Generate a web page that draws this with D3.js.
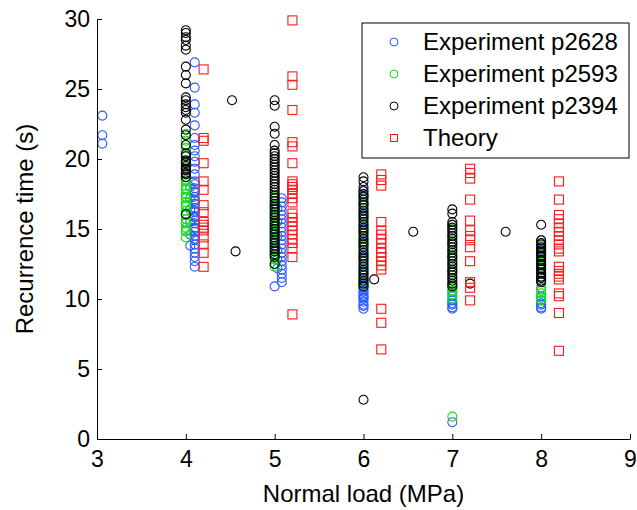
<!DOCTYPE html>
<html>
<head>
<meta charset="utf-8">
<script src="https://cdn.jsdelivr.net/npm/d3@7"></script>
<style>
  body { margin: 0; background: #fff; }
  text { font-family: "Liberation Sans", Arial, sans-serif; }
</style>
</head>
<body>
<svg id="chart"></svg>
<script>
// each group: [normal load, recurrence times...]
var p2628 = [
  [3.06, 23.1, 21.7, 21.1],
  [4.1, 26.9, 25.1, 23.9, 23.3, 22.4, 21.5, 21.0, 20.6, 20.2, 19.8, 19.3, 18.9, 18.4, 18.2, 17.9, 17.7, 17.6, 17.3, 17.1, 17.0, 16.8, 16.5, 16.3, 16.2, 15.9, 15.8, 15.6, 15.4, 15.1, 15.0, 14.8, 14.5, 14.3, 14.2, 13.9, 13.6, 13.3, 13.0, 12.7, 12.3],
  [4.05, 18.0, 17.2, 16.4, 15.5, 14.6, 13.8],
  [5.08, 17.2, 16.9, 16.6, 16.3, 16.0, 15.7, 15.4, 15.1, 14.8, 14.5, 14.2, 13.9, 13.6, 13.3, 13.0, 12.7, 12.4, 12.1, 11.8, 11.5, 11.2],
  [5.03, 16.5, 15.5, 14.5, 13.5, 12.8, 12.2],
  [5.0, 10.9],
  [6.0, 17.8, 17.4, 16.8, 16.0, 15.0, 14.0, 13.0, 12.0, 11.5, 11.2, 11.0, 10.8, 10.6, 10.5, 10.3, 10.2, 10.1, 10.0, 9.8, 9.6, 9.5, 9.3],
  [7.0, 15.3, 14.0, 13.0, 12.0, 11.0, 10.5, 10.2, 9.9, 9.7, 9.6, 9.4, 9.3, 1.2],
  [8.0, 14.2, 13.5, 12.5, 11.5, 10.8, 10.2, 9.9, 9.7, 9.6, 9.4, 9.3]
];
var p2593 = [
  [4.0, 21.8, 21.3, 20.8, 20.3, 19.8, 19.4, 19.0, 18.7, 18.5, 18.4, 18.1, 17.9, 17.8, 17.5, 17.3, 17.2, 16.9, 16.7, 16.6, 16.3, 16.1, 16.0, 15.7, 15.5, 15.4, 15.1, 14.9, 14.8, 14.4],
  [5.0, 17.3, 17.0, 16.7, 16.5, 16.4, 16.1, 15.9, 15.8, 15.5, 15.3, 15.2, 14.9, 14.7, 14.6, 14.3, 14.1, 14.0, 13.7, 13.5, 13.4, 13.1, 12.8, 12.5, 12.3],
  [6.0, 17.3, 16.8, 16.3, 15.8, 15.3, 14.8, 14.3, 13.8, 13.3, 12.8, 12.3, 11.8, 11.3, 10.9],
  [7.0, 15.0, 14.5, 14.0, 13.5, 13.0, 12.5, 12.0, 11.5, 11.0, 10.8, 10.6, 10.3, 10.0, 1.6],
  [8.0, 13.8, 13.2, 12.7, 12.3, 11.8, 11.3, 10.8, 10.6, 10.4, 10.1, 9.9]
];
var p2394 = [
  [4.0, 29.2, 29.0, 28.7, 28.5, 28.1, 27.8, 26.6, 26.0, 25.4, 24.4, 24.2, 23.9, 23.7, 23.5, 23.3, 22.8, 22.1, 21.7, 21.0, 20.4, 20.2, 19.9, 19.8, 19.7, 19.5, 19.3, 19.2, 19.0, 18.9, 18.7, 16.05],
  [4.52, 24.2],
  [4.56, 13.4],
  [5.0, 24.2, 23.8, 22.3, 21.8, 21.0, 20.6, 20.4, 20.2, 20.0, 19.8, 19.6, 19.4, 19.2, 19.0, 18.8, 18.6, 18.4, 18.2, 18.0, 17.8, 17.6, 17.4, 17.2, 17.0, 16.8, 16.6, 16.4, 16.2, 16.0, 15.8, 15.6, 15.4, 15.2, 15.0, 14.8, 14.6, 14.4, 14.2, 14.0, 13.8, 13.6, 13.4, 13.2, 13.0, 12.5],
  [6.0, 18.7, 18.4, 18.0, 17.7, 17.5, 17.3, 17.1, 16.9, 16.7, 16.5, 16.3, 16.1, 15.9, 15.7, 15.5, 15.3, 15.1, 14.9, 14.7, 14.5, 14.3, 14.1, 13.9, 13.7, 13.5, 13.3, 13.1, 12.9, 12.7, 12.5, 12.3, 12.1, 11.9, 11.7, 11.5, 11.3, 11.1, 10.9, 2.8],
  [6.12, 11.4],
  [6.56, 14.8],
  [7.0, 16.4, 16.1, 15.5, 15.3, 15.1, 14.9, 14.7, 14.5, 14.3, 14.1, 13.9, 13.7, 13.5, 13.3, 13.1, 12.9, 12.7, 12.5, 12.3, 12.1, 11.9, 11.7, 11.5, 11.3, 11.1, 10.9],
  [7.2, 11.1],
  [7.6, 14.8],
  [8.0, 15.3, 14.2, 14.0, 13.9, 13.7, 13.6, 13.4, 13.3, 13.1, 13.0, 12.8, 12.7, 12.5, 12.4, 12.2, 12.1, 11.9, 11.8, 11.6, 11.5, 11.3, 11.2]
];
var theory = [
  [4.2, 26.4, 21.5, 21.3, 19.7, 18.4, 17.8, 16.7, 16.2, 15.5, 15.3, 15.1, 14.9, 14.4, 13.9, 13.3, 12.3],
  [5.2, 29.9, 25.9, 25.3, 23.5, 21.2, 20.9, 19.7, 18.4, 18.2, 18.0, 17.8, 17.5, 17.2, 16.9, 16.1, 15.8, 15.5, 15.2, 14.9, 14.6, 14.3, 14.0, 13.6, 13.0, 8.9],
  [6.2, 18.9, 18.5, 18.1, 15.5, 14.9, 14.6, 14.3, 14.0, 13.6, 13.3, 13.0, 12.7, 12.4, 12.1, 9.3, 8.3, 6.4],
  [7.2, 19.3, 19.0, 18.6, 17.1, 15.6, 14.9, 14.5, 14.2, 13.7, 12.7, 11.2, 10.8, 9.9],
  [8.2, 18.4, 17.1, 16.0, 15.7, 15.4, 15.1, 14.8, 14.5, 14.2, 13.9, 13.6, 13.4, 12.3, 12.0, 11.8, 11.6, 11.4, 10.4, 10.2, 9.0, 6.3]
];
var xTicks = [3, 4, 5, 6, 7, 8, 9];
var yTicks = [0, 5, 10, 15, 20, 25, 30];

var width = 637, height = 510;
var margin = {top: 19, right: 7, bottom: 71, left: 97};

var series = [
  {name: "Experiment p2628", groups: p2628, color: "#2a5cff", shape: "circle"},
  {name: "Experiment p2593", groups: p2593, color: "#16e016", shape: "circle"},
  {name: "Experiment p2394", groups: p2394, color: "#000000", shape: "circle"},
  {name: "Theory", groups: theory, color: "#ff1a1a", shape: "square"}
];

var flat = g => g.flatMap(d => d.slice(1).map(v => ({x: d[0], y: v})));

var x = d3.scaleLinear().domain([3, 9]).range([margin.left, width - margin.right]);
var y = d3.scaleLinear().domain([0, 30]).range([height - margin.bottom, margin.top]);

var svg = d3.select("#chart")
  .attr("width", width)
  .attr("height", height)
  .attr("viewBox", [0, 0, width, height]);

svg.append("rect").attr("width", width).attr("height", height).attr("fill", "white");

function marker(sel, s, r) {
  if (s.shape === "circle") {
    sel.append("circle").attr("r", r);
  } else {
    sel.append("rect").attr("x", -r).attr("y", -r).attr("width", 2 * r).attr("height", 2 * r);
  }
}

series.forEach(s => {
  var g = svg.append("g")
    .attr("fill", "none")
    .attr("stroke", s.color)
    .attr("stroke-width", 1.1);
  g.selectAll("g")
    .data(flat(s.groups))
    .join("g")
    .attr("transform", d => `translate(${x(d.x)},${y(d.y)})`)
    .each(function() { marker(d3.select(this), s, 4.5); });
});

// axes, ticks inward
svg.append("g")
  .attr("transform", `translate(0,${height - margin.bottom})`)
  .call(d3.axisBottom(x).tickValues(xTicks).tickFormat(d3.format("d")).tickSizeInner(-5).tickSizeOuter(0).tickPadding(12))
  .call(g => g.selectAll("text").attr("font-size", 23).attr("fill", "#000").attr("font-family", "Liberation Sans, Arial, sans-serif"))
  .call(g => g.selectAll("line, path").attr("stroke", "#000"));

svg.append("g")
  .attr("transform", `translate(${margin.left},0)`)
  .call(d3.axisLeft(y).tickValues(yTicks).tickFormat(d3.format("d")).tickSizeInner(-5).tickSizeOuter(0).tickPadding(7))
  .call(g => g.selectAll("text").attr("font-size", 23).attr("fill", "#000").attr("font-family", "Liberation Sans, Arial, sans-serif"))
  .call(g => g.selectAll("line, path").attr("stroke", "#000"));

svg.append("text")
  .attr("x", (margin.left + width - margin.right) / 2)
  .attr("y", 502)
  .attr("text-anchor", "middle")
  .attr("font-size", 24)
  .text("Normal load (MPa)");

svg.append("text")
  .attr("transform", `translate(33,${(margin.top + height - margin.bottom) / 2}) rotate(-90)`)
  .attr("text-anchor", "middle")
  .attr("font-size", 24)
  .text("Recurrence time (s)");

// legend
var legend = svg.append("g").attr("transform", "translate(362,23)");
legend.append("rect")
  .attr("width", 267).attr("height", 135)
  .attr("fill", "white").attr("stroke", "#000").attr("stroke-width", 1);
var item = legend.selectAll("g.item")
  .data(series)
  .join("g")
  .attr("class", "item")
  .attr("transform", (d, i) => `translate(0,${19 + i * 32})`);
item.each(function(s) {
  var m = d3.select(this).append("g")
    .attr("transform", "translate(32,0)")
    .attr("fill", "none").attr("stroke", s.color);
  marker(m, s, s.shape === "circle" ? 4 : 3.5);
});
item.append("text")
  .attr("x", 61)
  .attr("dy", "0.35em")
  .attr("font-size", 24)
  .text(d => d.name);
</script>
</body>
</html>
